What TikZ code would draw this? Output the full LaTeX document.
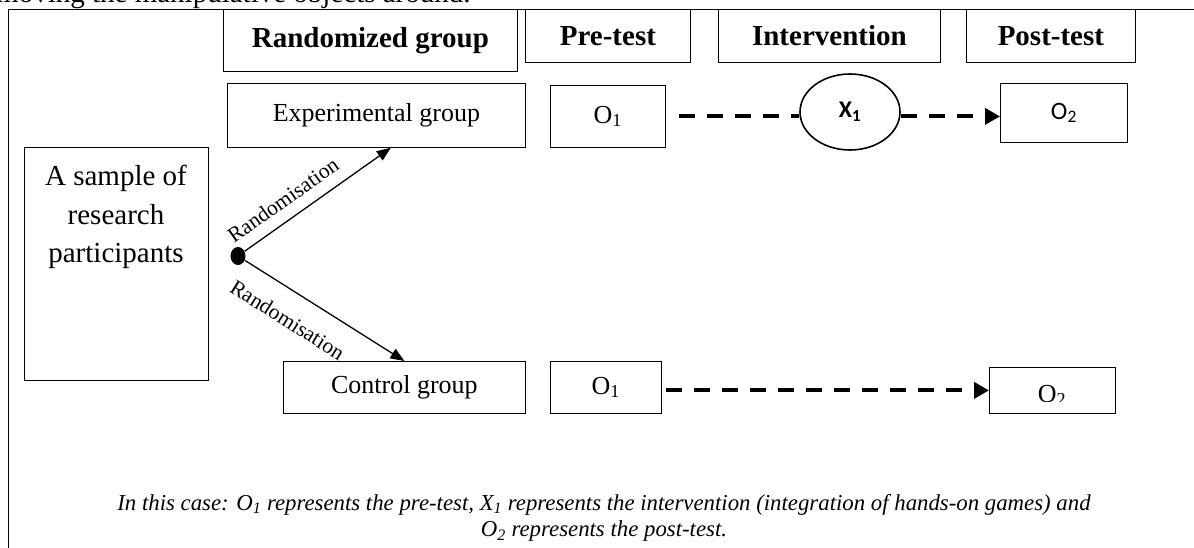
\documentclass[tikz,border=0pt]{standalone}
\usepackage{fontspec}
\setmainfont{Liberation Serif}
\newfontfamily\calibri{Carlito}
\usetikzlibrary{arrows.meta,positioning,shapes.geometric}
\tikzset{
  cell/.style={draw,line width=0.8pt,inner sep=0pt,anchor=north west,
               font=\fontsize{26}{30}\selectfont},
  headcell/.style={cell,font=\fontsize{29}{34}\selectfont\bfseries},
  dasharrow/.style={line width=4pt,dash pattern=on 16pt off 12pt},
  randarrow/.style={line width=1.3pt,-{Triangle[length=14pt,width=11pt]}},
  randlabel/.style={sloped,font=\fontsize{21.5}{24}\selectfont}
}

\begin{document}
\begin{tikzpicture}[x=1pt,y=-1pt]
  \useasboundingbox (0,0) rectangle (1194,548);
  \clip (0,0) rectangle (1194,548);
  \node[anchor=base west,inner sep=0pt,font=\fontsize{29}{34}\selectfont] (lead) at (-4,3)
    {moving the manipulative objects around.};
  \draw[line width=0.8pt] (8,560) -- (8,9) -- (1200,9);

  \node[headcell,minimum width=294pt,minimum height=62pt] (rand) at (223,9) {Randomized group};
  \node[headcell,minimum width=165pt,minimum height=53pt] (pre) at (525,9) {Pre-test};
  \node[headcell,minimum width=222pt,minimum height=53pt] (interv) at (718,9) {Intervention};
  \node[headcell,minimum width=169pt,minimum height=53pt] (post) at (966,9) {Post-test};

  \node[cell,minimum width=298pt,minimum height=64pt] (exp) at (227,83) {Experimental group};
  \node[cell,minimum width=115pt,minimum height=62pt] (o1e) at (550,85) {O\textsubscript{1}};
  \node[ellipse,draw,line width=1.6pt,minimum width=100pt,minimum height=76pt,inner sep=0pt,
        font=\calibri\bfseries\fontsize{24}{27}\selectfont] (x1) at (850,112) {X\textsubscript{1}};
  \node[cell,minimum width=127pt,minimum height=59pt,font=\calibri\fontsize{25}{28}\selectfont]
    (o2e) at (1000,83) {O\textsubscript{2}};

  \node[cell,minimum width=184pt,minimum height=233pt] (sample) at (24,147) {};
  \node[anchor=north,inner sep=0pt,align=center,font=\fontsize{29}{38.5}\selectfont]
    (sampletext) at (116,165) {A sample of\\research\\participants};
  \node[ellipse,fill,inner sep=0pt,minimum width=15pt,minimum height=18pt] (split) at (238,256) {};

  \node[cell,minimum width=242pt,minimum height=52pt] (ctrl) at (283,361) {Control group};
  \node[cell,minimum width=111pt,minimum height=52pt] (o1c) at (550,361) {O\textsubscript{1}};
  \node[cell,minimum width=126pt,minimum height=46pt] (o2c) at (989,367) {};
  \begin{scope}
    \clip (o2c.north west) rectangle ([yshift=12pt]o2c.south east);
    \node[anchor=base,inner sep=0pt,font=\fontsize{26}{30}\selectfont] (o2ctext) at (1052,402) {O\textsubscript{2}};
  \end{scope}

  \draw[randarrow] (split) -- (exp.-66)
    node[randlabel,pos=0.34,above=8pt] (lab1) {Randomisation};
  \draw[randarrow] (split) -- (ctrl.north)
    node[randlabel,pos=0.36,below=16pt] (lab2) {Randomisation};

  \draw[dasharrow] ([xshift=13pt]o1e.east) -- (o1e.east -| x1.west);
  \draw[dasharrow,-{Triangle[length=15pt,width=16pt]}] (x1.east |- o1e.east) -- (o2e.west |- o1e.east);
  \draw[dasharrow,-{Triangle[length=15pt,width=16pt]}] ([xshift=4pt]o1c.east |- o2c.west) -- (o2c.west);

  \node[align=center,font=\fontsize{22.8}{26.5}\selectfont\itshape] (note) at (604,518)
    {In this case: O\textsubscript{1} represents the pre-test, X\textsubscript{1} represents the intervention (integration of hands-on games) and\\
     O\textsubscript{2} represents the post-test.};
\end{tikzpicture}
\end{document}
